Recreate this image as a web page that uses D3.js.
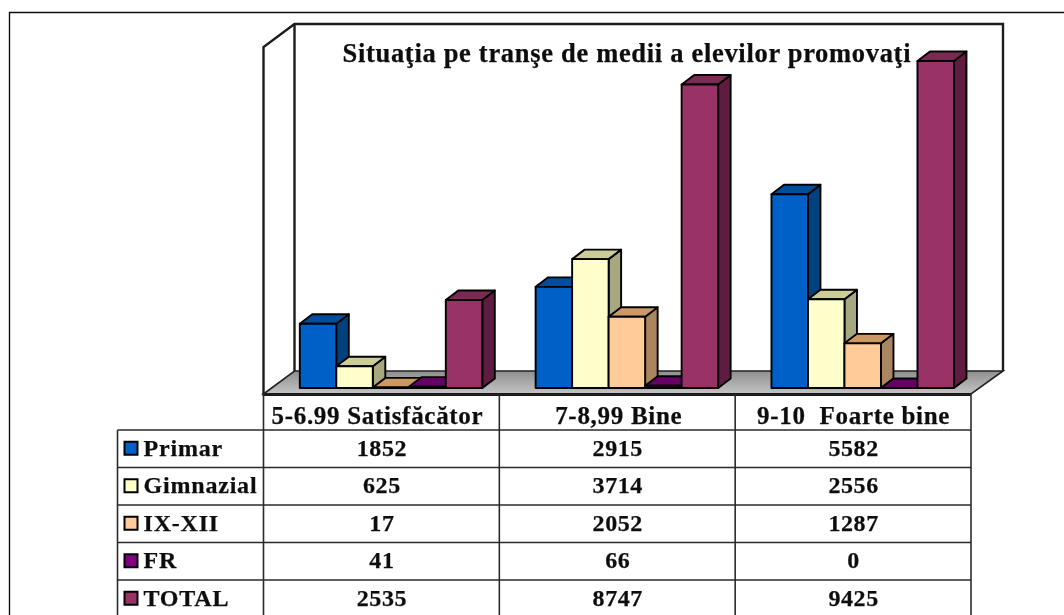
<!DOCTYPE html>
<html><head><meta charset="utf-8">
<script src="https://cdn.jsdelivr.net/npm/d3@7/dist/d3.min.js"></script>
<style>
html,body{margin:0;padding:0;background:#fff}
svg{display:block}
text{font-family:"Liberation Serif",serif;font-weight:bold;fill:#111;white-space:pre;stroke:#111;stroke-width:0.25px}
</style></head><body>
<svg id="c" width="1064" height="615"></svg>
<script>
const categories = ["5-6.99 Satisfăcător", "7-8,99 Bine", "9-10  Foarte bine"];
const seriesNames = ["Primar", "Gimnazial", "IX-XII", "FR", "TOTAL"];
const primar = [1852, 2915, 5582];
const gimnazial = [625, 3714, 2556];
const ixXii = [17, 2052, 1287];
const fr = [41, 66, 0];
const total = [2535, 8747, 9425];
const titleText = "Situaţia pe tranşe de medii a elevilor promovaţi";
const frontColors = ["#0060C8", "#FFFFCC", "#FFCC99", "#800080", "#993366"];
const topColors = ["#004E9F", "#CCCC99", "#CC9966", "#660066", "#7A2952"];
const sideColors = ["#00437F", "#A8A880", "#AA8660", "#4C004C", "#5E1F40"];

const seriesValues = [primar, gimnazial, ixXii, fr, total];
const svg = d3.select("#c");
const defs = svg.append("defs");
defs.append("filter").attr("id","soft").attr("x","-2%").attr("y","-2%").attr("width","104%").attr("height","104%")
  .append("feGaussianBlur").attr("stdDeviation",0.45);
const root = svg.append("g").attr("filter","url(#soft)");
root.append("rect").attr("x",-10).attr("y",-10).attr("width",1090).attr("height",640).attr("fill","#fff");

const dx = 12.5, dy = 9.5;
const plot = {l:263.5, r:971, top:47, base:388};
const x0 = d3.scaleBand().domain(categories).range([plot.l, plot.r]);
const x1 = d3.scaleBand().domain(seriesNames).range([36.3, 36.3 + 36.5*5]);
const y = d3.scaleLinear().domain([0, 10000]).range([plot.base, plot.base - 347]);
const ink = "#111";

// page frame
root.append("path").attr("d","M9.5,625V12.5H1074").attr("fill","none").attr("stroke",ink).attr("stroke-width",1.4);

// walls
const wallL = plot.l, wallR = plot.r, floorF = 394, floorB = 371, wallT = 24, off = 31, offY = 23;
root.append("path").attr("d",`M${wallL},${floorF}V${wallT+offY}L${wallL+off},${wallT}H${wallR+off+1}V${floorB}`)
  .attr("fill","#fff").attr("stroke","#1a1a1a").attr("stroke-width",2.4);
root.append("line").attr("x1",wallL+off).attr("x2",wallL+off).attr("y1",wallT).attr("y2",floorB).attr("stroke","#1a1a1a").attr("stroke-width",2.4);

// floor
const g = defs.append("linearGradient").attr("id","fl").attr("x1",0).attr("x2",0).attr("y1",0).attr("y2",1);
g.append("stop").attr("offset",0).attr("stop-color","#8f8f8f");
g.append("stop").attr("offset",1).attr("stop-color","#c4c4c4");
root.append("path").attr("d",`M${wallL},${floorF}L${wallL+off},${floorB}H${wallR+off+1}L${wallR},${floorF}Z`)
  .attr("fill","url(#fl)").attr("stroke","#222").attr("stroke-width",1.6);
root.append("line").attr("x1",wallL-1).attr("x2",wallR).attr("y1",floorF+0.5).attr("y2",floorF+0.5).attr("stroke","#1a1a1a").attr("stroke-width",3);

// bars
const barW = x1.bandwidth();
const bars = root.append("g").attr("stroke","#000").attr("stroke-width",1.9).attr("stroke-linejoin","round");
categories.forEach((c,ci)=>{
  seriesNames.forEach((s,si)=>{
    const v = seriesValues[si][ci];
    const xa = x0(c)+x1(s), xb = xa+barW, yt = y(v), yb = y(0);
    const b = bars.append("g");
    b.append("path").attr("d",`M${xb},${yb}L${xb+dx},${yb-dy}V${yt-dy}L${xb},${yt}Z`).attr("fill",sideColors[si]);
    b.append("path").attr("d",`M${xa},${yt}L${xa+dx},${yt-dy}H${xb+dx}L${xb},${yt}Z`).attr("fill",topColors[si]);
    b.append("rect").attr("x",xa).attr("y",yt).attr("width",barW).attr("height",yb-yt).attr("fill",frontColors[si]);
  });
});

// title
root.append("text").attr("x",626.5).attr("y",62).attr("text-anchor","middle")
  .attr("font-size",26.5).attr("textLength",568).attr("lengthAdjust","spacing").text(titleText);

// data table
const rowY = d3.scaleBand().domain(seriesNames).range([430, 617.5]);
const tableL = 117.5;
const line = "#2a2a2a";
const t = root.append("g");
// category axis (header row)
const axis = d3.axisBottom(x0).tickSize(0).tickPadding(0);
const ax = root.append("g").attr("transform","translate(0,398)").call(axis);
ax.select(".domain").remove();
ax.selectAll("text").attr("font-size",25).attr("dy",0).attr("y",25.5).attr("fill","#111")
  .attr("dx",(d,i)=>[-4,1.5,0.5][i])
  .style("font-family",'"Liberation Serif",serif').style("font-weight","bold").style("letter-spacing","0.7px");
// verticals
x0.domain().concat(["_end"]).forEach((c,i)=>{
  const xx = i<3 ? x0(c) : plot.r;
  t.append("line").attr("x1",xx).attr("x2",xx).attr("y1",394).attr("y2",625).attr("stroke",line).attr("stroke-width",1.6);
});
t.append("line").attr("x1",tableL).attr("x2",tableL).attr("y1",430).attr("y2",625).attr("stroke",line).attr("stroke-width",1.6);
seriesNames.forEach((s,i)=>{
  const ry = rowY(s), h = rowY.bandwidth();
  t.append("line").attr("x1",tableL).attr("x2",plot.r).attr("y1",ry).attr("y2",ry).attr("stroke",line).attr("stroke-width",1.6);
  t.append("rect").attr("x",124.5).attr("y",ry+h/2-7).attr("width",13).attr("height",13).attr("fill",frontColors[i]).attr("stroke","#000").attr("stroke-width",2);
  t.append("text").attr("x",143.5).attr("y",ry+h/2+7).attr("font-size",24).style("letter-spacing","0.8px").text(s);
  categories.forEach((c,ci)=>{
    t.append("text").attr("x",x0(c)+x0.bandwidth()/2+0.5).attr("y",ry+h/2+7).attr("text-anchor","middle")
      .attr("font-size",24).style("letter-spacing","0.6px").text(seriesValues[i][ci]);
  });
});
</script></body></html>
